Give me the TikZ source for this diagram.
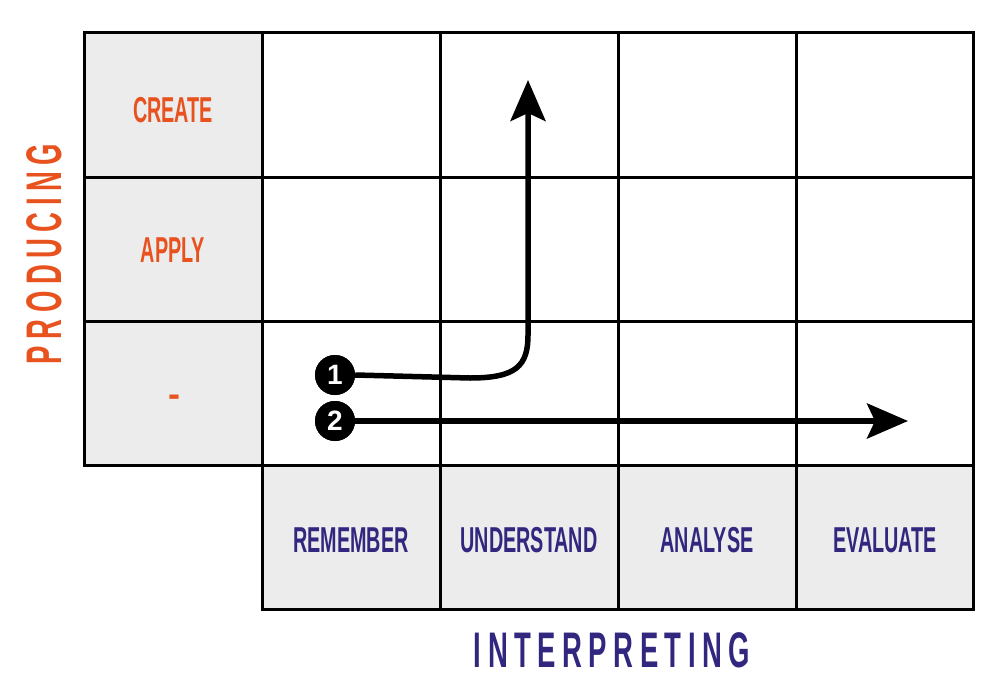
\documentclass[tikz,border=0pt]{standalone}
\usepackage{fontspec}
\newfontfamily\condfont[FakeStretch=0.55]{Liberation Sans}
\newfontfamily\plainfont{Liberation Sans}
\usetikzlibrary{arrows.meta}
\definecolor{prodorange}{HTML}{E8521F}
\definecolor{interpurple}{HTML}{31277F}
\definecolor{cellgray}{HTML}{ECECEC}
\tikzset{
  gridline/.style={line width=3pt, black},
  graycell/.style={fill=cellgray},
  rowlabel/.style={font=\condfont\bfseries\fontsize{36}{36}\selectfont, text=prodorange, anchor=center},
  collabel/.style={font=\condfont\bfseries\fontsize{36}{36}\selectfont, text=interpurple, anchor=center},
  axislabel/.style={font=\condfont\bfseries\fontsize{50}{50}\selectfont, anchor=center, inner sep=0pt},
  numdot/.style={circle, fill=black, minimum size=40pt, inner sep=0pt, text=white,
    font=\plainfont\bfseries\fontsize{28}{28}\selectfont},
  patharrow/.style={line width=5.5pt, -{Stealth[length=41pt,width=35pt,inset=8pt]}},
}
\newcommand\lsp{\kern6.5pt}
\begin{document}
\begin{tikzpicture}[x=1pt,y=-1pt]
  \useasboundingbox (0,0) rectangle (1000,690);
  \fill[white] (0,0) rectangle (1000,690);

  % shaded header column and header row
  \fill[graycell] (84,33) rectangle (262,465);
  \fill[graycell] (262,465) rectangle (973,609);

  % grid
  \draw[gridline] (84,33) rectangle (973,465);
  \draw[gridline] (262,465) rectangle (973,609);
  \foreach \x in {262,440,618,796} \draw[gridline] (\x,33) -- (\x,609);
  \foreach \y in {177,321} \draw[gridline] (84,\y) -- (973,\y);

  % row headers
  \node[rowlabel] (create) at (173,110) {CREATE};
  \node[rowlabel] (apply) at (173,250) {APPLY};
  \node[rowlabel, font=\plainfont\bfseries\fontsize{36}{36}\selectfont, anchor=base, inner sep=0pt] (none) at (174,406) {-};

  % column headers
  \node[collabel] (remember) at (351,540) {REMEMBER};
  \node[collabel] (understand) at (529,540) {UNDERSTAND};
  \node[collabel] (analyse) at (707,540) {ANALYSE};
  \node[collabel] (evaluate) at (885,540) {EVALUATE};

  % axis titles
  \node[axislabel, text=prodorange, rotate=90] (producing) at (44,254)
    {P\lsp R\lsp O\lsp D\lsp U\lsp C\lsp I\lsp N\lsp G};
  \node[axislabel, text=interpurple] (interpreting) at (612,650)
    {I\lsp N\lsp T\lsp E\lsp R\lsp P\lsp R\lsp E\lsp T\lsp I\lsp N\lsp G};

  % paths
  \coordinate (tipone) at (528,80);
  \coordinate (tiptwo) at (908,421);
  \node[numdot] (one) at (335,375) {1};
  \node[numdot] (two) at (335,421) {2};
  \draw[patharrow] (one.east) -- (470,378) .. controls (516,378) and (528,366) .. (528,335) -- (tipone);
  \draw[patharrow] (two.east) -- (tiptwo);
  % redraw markers above the line ends
  \node[numdot] at (one) {1};
  \node[numdot] at (two) {2};
\end{tikzpicture}
\end{document}
